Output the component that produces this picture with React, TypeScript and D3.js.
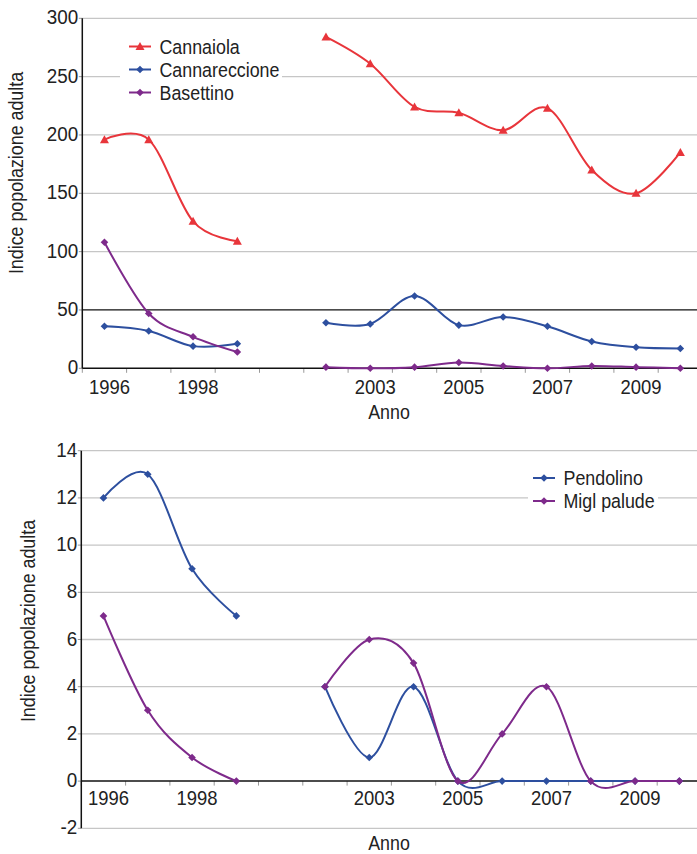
import React from "react";
import * as d3 from "d3";

const categories = ["1996", "1997", "1998", "1999", "", "2002", "2003", "2004", "2005", "2006", "2007", "2008", "2009", "2010"];
const tickLabels = ["1996", "", "1998", "", "", "", "2003", "", "2005", "", "2007", "", "2009", ""];

const cannaiola = [196, 196, 126, 109, null, 284, 261, 224, 219, 204, 223, 170, 150, 185];
const cannareccione = [36, 32, 19, 21, null, 39, 38, 62, 37, 44, 36, 23, 18, 17];
const basettino = [108, 47, 27, 14, null, 1, 0, 1, 5, 2, 0, 2, 1, 0];

const pendolino = [12, 13, 9, 7, null, 4, 1, 4, 0, 0, 0, 0, 0, 0];
const miglPalude = [7, 3, 1, 0, null, 4, 6, 5, 0, 2, 4, 0, 0, 0];

const topTicks = [0, 50, 100, 150, 200, 250, 300];
const bottomTicks = [-2, 0, 2, 4, 6, 8, 10, 12, 14];

const RED = "#e8353b";
const BLUE = "#2d4f9f";
const PURPLE = "#7e2a8b";
const GRID = "#c6c6c6";
const FONT = "'Liberation Sans', Arial, sans-serif";
const FS = 20.5;
const SX = 0.87;

type Series = { name: string; values: (number | null)[]; color: string; marker: "tri" | "dia" };

const topSeries: Series[] = [
  { name: "Cannaiola", values: cannaiola, color: RED, marker: "tri" },
  { name: "Cannareccione", values: cannareccione, color: BLUE, marker: "dia" },
  { name: "Basettino", values: basettino, color: PURPLE, marker: "dia" },
];
const bottomSeries: Series[] = [
  { name: "Pendolino", values: pendolino, color: BLUE, marker: "dia" },
  { name: "Migl palude", values: miglPalude, color: PURPLE, marker: "dia" },
];

function T(props: { x: number; y: number; anchor?: "start" | "middle" | "end"; rotate?: number; children: React.ReactNode; sx?: number }) {
  const rot = props.rotate ? ` rotate(${props.rotate})` : "";
  return (
    <text
      transform={`translate(${props.x},${props.y})${rot} scale(${props.sx ?? SX},1)`}
      dy="0.35em"
      textAnchor={props.anchor ?? "start"}
      fontSize={FS}
      fontFamily={FONT}
      fill="#222"
    >
      {props.children}
    </text>
  );
}

function Marker({ x, y, type, color }: { x: number; y: number; type: "tri" | "dia"; color: string }) {
  if (type === "tri") {
    return <path d={`M${x},${y - 4.5} L${x + 4.5},${y + 3.5} L${x - 4.5},${y + 3.5} Z`} fill={color} />;
  }
  return <path d={`M${x},${y - 3.8} L${x + 3.8},${y} L${x},${y + 3.8} L${x - 3.8},${y} Z`} fill={color} />;
}

function Panel(props: {
  left: number; step: number; yTop: number; yBottom: number; domain: [number, number];
  ticks: number[]; series: Series[]; refLine?: number; zero: number;
  labelY: number; titleY: number; yLabelX: number; yLabelY: number;
  legend: { x: number; y: number; rx: number; ry: number; rw: number; rh: number };
}) {
  const { left, step, yTop, yBottom, domain, ticks, series } = props;
  const right = left + step * categories.length;
  const x = d3.scaleBand<string>().domain(categories.map((c, i) => String(i))).range([left, right]).padding(0);
  const y = d3.scaleLinear().domain(domain).range([yBottom, yTop]);
  const cx = (i: number) => (x(String(i)) as number) + x.bandwidth() / 2;
  const line = d3
    .line<number | null>()
    .defined((d) => d !== null)
    .x((_, i) => cx(i))
    .y((d) => y(d as number))
    .curve(d3.curveCatmullRom.alpha(0));
  const y0 = y(props.zero);
  return (
    <g>
      {ticks.map((t) => (
        <g key={t}>
          {t !== props.zero && t !== props.refLine && (
            <line x1={left} x2={700} y1={y(t)} y2={y(t)} stroke={GRID} strokeWidth={1.3} />
          )}
          <line x1={left - 3.5} x2={left} y1={y(t)} y2={y(t)} stroke="#999" strokeWidth={1} />
          <T x={left - 4} y={y(t) - 1} anchor="end" sx={0.92}>
            {t}
          </T>
        </g>
      ))}
      {props.refLine !== undefined && (
        <line x1={left} x2={700} y1={y(props.refLine)} y2={y(props.refLine)} stroke="#111" strokeWidth={1.2} />
      )}
      <rect x={props.legend.rx} y={props.legend.ry} width={props.legend.rw} height={props.legend.rh} fill="#fff" />
      {d3.range(categories.length + 1).map((i) => (
        <line key={i} x1={left + i * step} x2={left + i * step} y1={y0} y2={y0 + 4.5} stroke="#999" strokeWidth={1} />
      ))}
      <line x1={left} x2={700} y1={y0} y2={y0} stroke="#111" strokeWidth={1.5} />
      <line x1={left} x2={left} y1={yTop} y2={yBottom} stroke="#111" strokeWidth={1.5} />
      {tickLabels.map((l, i) =>
        l ? (
          <T key={i} x={cx(i) + 5} y={props.labelY} anchor="middle" sx={0.9}>
            {l}
          </T>
        ) : null
      )}
      <T x={389} y={props.titleY} anchor="middle">
        Anno
      </T>
      <T x={props.yLabelX} y={props.yLabelY} anchor="middle" rotate={-90}>
        Indice popolazione adulta
      </T>
      {series.map((s) => (
        <g key={s.name}>
          <path d={line(s.values) || ""} fill="none" stroke={s.color} strokeWidth={2} />
          {s.values.map((v, i) =>
            v === null ? null : <Marker key={i} x={cx(i)} y={y(v)} type={s.marker} color={s.color} />
          )}
        </g>
      ))}
      {series.map((s, k) => {
        const ly = props.legend.y + k * 23;
        return (
          <g key={"lg" + s.name}>
            <line x1={props.legend.x} x2={props.legend.x + 22} y1={ly} y2={ly} stroke={s.color} strokeWidth={2} />
            <Marker x={props.legend.x + 11} y={ly} type={s.marker} color={s.color} />
            <T x={props.legend.x + 30.5} y={ly}>
              {s.name}
            </T>
          </g>
        );
      })}
    </g>
  );
}

export default function App() {
  return (
    <svg width={697} height={854} style={{ position: "absolute", left: 0, top: 0, background: "#fff" }}>
      <rect width={697} height={854} fill="#fff" />
      <Panel
        left={82.3}
        step={44.3}
        yTop={18.3}
        yBottom={368.3}
        domain={[0, 300]}
        ticks={topTicks}
        series={topSeries}
        refLine={50}
        zero={0}
        labelY={387}
        titleY={412}
        yLabelX={16}
        yLabelY={173}
        legend={{ x: 129, y: 46.5, rx: 120, ry: 30, rw: 162, rh: 72 }}
      />
      <Panel
        left={81.3}
        step={44.3}
        yTop={450.7}
        yBottom={828.3}
        domain={[-2, 14]}
        ticks={bottomTicks}
        series={bottomSeries}
        zero={0}
        labelY={797.5}
        titleY={843}
        yLabelX={28}
        yLabelY={621}
        legend={{ x: 533, y: 478, rx: 528, ry: 462, rw: 130, rh: 50 }}
      />
    </svg>
  );
}
